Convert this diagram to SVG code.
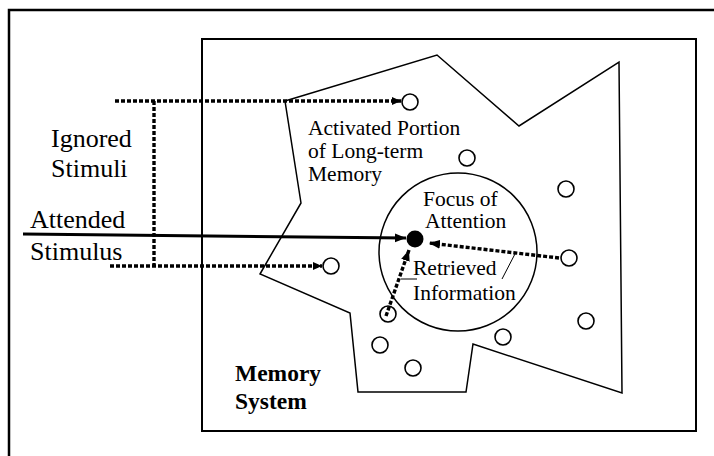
<svg xmlns="http://www.w3.org/2000/svg" width="714" height="456" viewBox="0 0 714 456">
  <style>
    .frame { fill: none; stroke: #000; stroke-width: 2.5; }
    .box { fill: none; stroke: #000; stroke-width: 2; }
    .thin { fill: none; stroke: #000; stroke-width: 1.5; }
    .item { fill: #fff; stroke: #000; stroke-width: 1.6; }
    .dots { fill: none; stroke: #000; stroke-width: 3.4; stroke-dasharray: 4 2; }
    .solid { fill: none; stroke: #000; stroke-width: 3; }
    .leader { fill: none; stroke: #000; stroke-width: 1; }
    text { font-family: "Liberation Serif", "Times New Roman", serif; fill: #000; }
    .big { font-size: 26px; }
    .mid { font-size: 21.5px; }
    .bold { font-size: 23.5px; font-weight: bold; }
  </style>
  <defs>
    <marker id="head" markerUnits="userSpaceOnUse" markerWidth="12" markerHeight="10" refX="11" refY="5" orient="auto">
      <path d="M0,0.5 L11,5 L0,9.5 Z" fill="#000"/>
    </marker>
    <marker id="headSmall" markerUnits="userSpaceOnUse" markerWidth="10" markerHeight="10" refX="9" refY="5" orient="auto">
      <path d="M0,1 L9,5 L0,9 Z" fill="#000"/>
    </marker>
  </defs>

  <rect width="714" height="456" fill="#fff"/>

  <!-- outer frame (left and top edges) -->
  <path class="frame" d="M9,456 V10 H714"/>

  <!-- memory system box -->
  <g id="memory-system">
    <rect class="box" x="202" y="39" width="494" height="392"/>
    <text class="bold" x="235" y="381">Memory</text>
    <text class="bold" x="235" y="409">System</text>
  </g>

  <!-- activated portion of long-term memory -->
  <g id="activated-portion">
    <polygon class="thin" points="285,101 437,55 519,126 619,62 622,393 473,344 466,392 358,392 350,313 260,274 301,203"/>
    <text class="mid" x="308" y="135">Activated Portion</text>
    <text class="mid" x="308" y="158">of Long-term</text>
    <text class="mid" x="308" y="181">Memory</text>
  </g>

  <!-- focus of attention -->
  <g id="focus">
    <circle class="thin" cx="458" cy="252" r="79"/>
    <text class="mid" x="423" y="206">Focus of</text>
    <text class="mid" x="425" y="228">Attention</text>
    <circle cx="415" cy="239" r="8.5" fill="#000"/>
  </g>

  <!-- memory items -->
  <g id="items">
    <circle class="item" cx="410" cy="102" r="8"/>
    <circle class="item" cx="467" cy="158" r="8"/>
    <circle class="item" cx="566" cy="189" r="8"/>
    <circle class="item" cx="569" cy="258" r="8"/>
    <circle class="item" cx="388" cy="314" r="8"/>
    <circle class="item" cx="380" cy="345" r="8"/>
    <circle class="item" cx="413" cy="368" r="8"/>
    <circle class="item" cx="503" cy="337" r="8"/>
    <circle class="item" cx="586" cy="321" r="8"/>
    <circle class="item" cx="331" cy="266" r="8"/>
  </g>

  <!-- stimulus labels -->
  <g id="ignored-stimuli">
    <text class="big" x="51" y="147">Ignored</text>
    <text class="big" x="51" y="177">Stimuli</text>
  </g>
  <g id="attended-stimulus">
    <text class="big" x="30" y="228">Attended</text>
    <text class="big" x="30" y="260">Stimulus</text>
  </g>

  <!-- retrieved information label -->
  <g id="retrieved">
    <text class="mid" x="413" y="275">Retrieved</text>
    <text class="mid" x="413" y="300">Information</text>
    <path class="leader" d="M401,279 H417"/>
    <path class="leader" d="M502,279 L516,252"/>
  </g>

  <!-- connectors -->
  <g id="connectors">
    <path class="dots" d="M115,101 H401" marker-end="url(#headSmall)"/>
    <path class="dots" d="M154,101 V266"/>
    <path class="dots" d="M110,266 H322" marker-end="url(#headSmall)"/>
    <path class="solid" d="M23,234 L406,238" marker-end="url(#head)"/>
    <path class="dots" d="M559,258 L429,243" marker-end="url(#head)"/>
    <path class="dots" d="M386,316 L409,250" marker-end="url(#head)"/>
  </g>
</svg>
